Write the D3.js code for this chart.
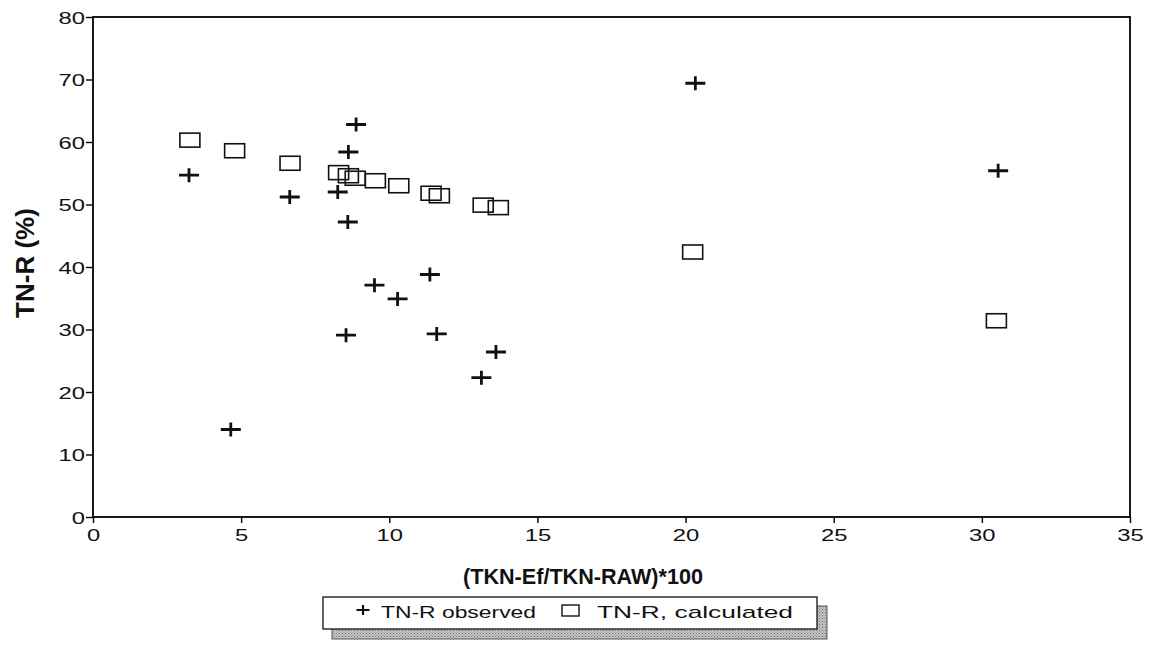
<!DOCTYPE html>
<html><head><meta charset="utf-8">
<script src="https://cdn.jsdelivr.net/npm/d3@7"></script>
<style>body{margin:0;background:#fff}svg{display:block}</style>
</head><body>
<svg id="c" width="1155" height="672"></svg>
<script>
// ---- data ----
const observedX = [3.24, 4.65, 6.64, 8.26, 8.62, 8.88, 8.60, 9.50, 10.28, 11.37, 8.54, 11.60, 13.60, 13.11, 20.33, 30.55];
const observedY = [54.7, 14.0, 51.2, 52.0, 58.4, 62.8, 47.2, 37.1, 34.9, 38.8, 29.1, 29.3, 26.4, 22.3, 69.4, 55.4];
const calculatedX = [3.27, 4.78, 6.65, 8.29, 8.62, 8.85, 9.53, 10.32, 11.41, 11.69, 13.17, 13.68, 20.24, 30.49];
const calculatedY = [60.3, 58.6, 56.6, 55.1, 54.6, 54.2, 53.8, 53.0, 51.8, 51.4, 49.9, 49.5, 42.4, 31.4];
const xTicks = [0, 5, 10, 15, 20, 25, 30, 35];
const yTicks = [0, 10, 20, 30, 40, 50, 60, 70, 80];
const xTitle = "(TKN-Ef/TKN-RAW)*100";
const yTitle = "TN-R (%)";
const legendLabels = ["TN-R observed", "TN-R, calculated"];

const svg = d3.select("#c");
const FONT = "'Liberation Sans', Arial, Helvetica, sans-serif";

const x = d3.scaleLinear().domain([0, 35]).range([93, 1130]);
const y = d3.scaleLinear().domain([0, 80]).range([517, 17]);

// shadow pattern for legend
const defs = svg.append("defs");
const pat = defs.append("pattern").attr("id", "dots").attr("width", 3).attr("height", 3)
  .attr("patternUnits", "userSpaceOnUse");
pat.append("rect").attr("width", 3).attr("height", 3).attr("fill", "#c4c4c4");
pat.append("rect").attr("width", 1).attr("height", 1).attr("fill", "#6e6e6e");
pat.append("rect").attr("x", 1.5).attr("y", 1.5).attr("width", 1).attr("height", 1).attr("fill", "#8a8a8a");

// axes
const yAxis = svg.append("g").attr("transform", `translate(${x(0)},0)`)
  .call(d3.axisLeft(y).tickValues(yTicks).tickSize(7).tickPadding(3));
const xAxis = svg.append("g").attr("transform", `translate(0,${y(0)})`)
  .call(d3.axisBottom(x).tickValues(xTicks).tickSize(6).tickPadding(6));
[yAxis, xAxis].forEach(g => {
  g.select(".domain").remove();
  g.selectAll(".tick line").attr("stroke", "#000").attr("stroke-width", 1.4);
  g.selectAll(".tick text").attr("fill", "#111").style("font-family", FONT).style("font-size", "17px");
});
yAxis.selectAll(".tick text").attr("dy", "0.36em")
  .attr("transform", "scale(1.4,1)").attr("x", -8 / 1.4);
xAxis.selectAll(".tick text").attr("transform", "scale(1.4,1)");

// frame
svg.append("rect")
  .attr("x", x(0)).attr("y", y(80))
  .attr("width", x(35) - x(0)).attr("height", y(0) - y(80))
  .attr("fill", "none").attr("stroke", "#000").attr("stroke-width", 1.8);

// titles
svg.append("text").attr("x", 463).attr("y", 584)
  .attr("textLength", 240).attr("lengthAdjust", "spacingAndGlyphs")
  .style("font-family", FONT).style("font-size", "21.5px").style("font-weight", "bold")
  .attr("fill", "#111").text(xTitle);
svg.append("text").attr("transform", "translate(34,263) rotate(-90)")
  .attr("text-anchor", "middle")
  .style("font-family", FONT).style("font-size", "26px").style("font-weight", "bold")
  .attr("fill", "#111").text(yTitle);

// markers
const crossPath = (w, h) => `M${-w/2},0H${w/2}M0,${-h/2}V${h/2}`;
const obs = observedX.map((v, i) => ({x: v, y: observedY[i]}));
const calc = calculatedX.map((v, i) => ({x: v, y: calculatedY[i]}));

svg.append("g").selectAll("rect").data(calc).join("rect")
  .attr("x", d => x(d.x) - 10).attr("y", d => y(d.y) - 7)
  .attr("width", 20).attr("height", 14)
  .attr("fill", "none").attr("stroke", "#111").attr("stroke-width", 1.6);

svg.append("g").selectAll("path").data(obs).join("path")
  .attr("transform", d => `translate(${x(d.x)},${y(d.y)})`)
  .attr("d", crossPath(20, 14))
  .attr("fill", "none").attr("stroke", "#111").attr("stroke-width", 2.8);

// legend
const lg = svg.append("g");
lg.append("rect").attr("x", 332).attr("y", 606).attr("width", 495).attr("height", 33)
  .attr("fill", "url(#dots)").attr("stroke", "#555").attr("stroke-width", 1);
lg.append("rect").attr("x", 323).attr("y", 597).attr("width", 494).attr("height", 32)
  .attr("fill", "#fff").attr("stroke", "#111").attr("stroke-width", 1.3);
lg.append("path").attr("transform", "translate(363,610)").attr("d", crossPath(13, 10))
  .attr("stroke", "#111").attr("stroke-width", 2.2);
lg.append("rect").attr("x", 562).attr("y", 605).attr("width", 17).attr("height", 11)
  .attr("fill", "none").attr("stroke", "#111").attr("stroke-width", 1.4);
lg.append("text").attr("x", 381).attr("y", 618).attr("textLength", 155).attr("lengthAdjust", "spacingAndGlyphs")
  .style("font-family", FONT).style("font-size", "17px").attr("fill", "#111").text(legendLabels[0]);
lg.append("text").attr("x", 597).attr("y", 618).attr("textLength", 196).attr("lengthAdjust", "spacingAndGlyphs")
  .style("font-family", FONT).style("font-size", "17px").attr("fill", "#111").text(legendLabels[1]);
</script>
</body></html>
